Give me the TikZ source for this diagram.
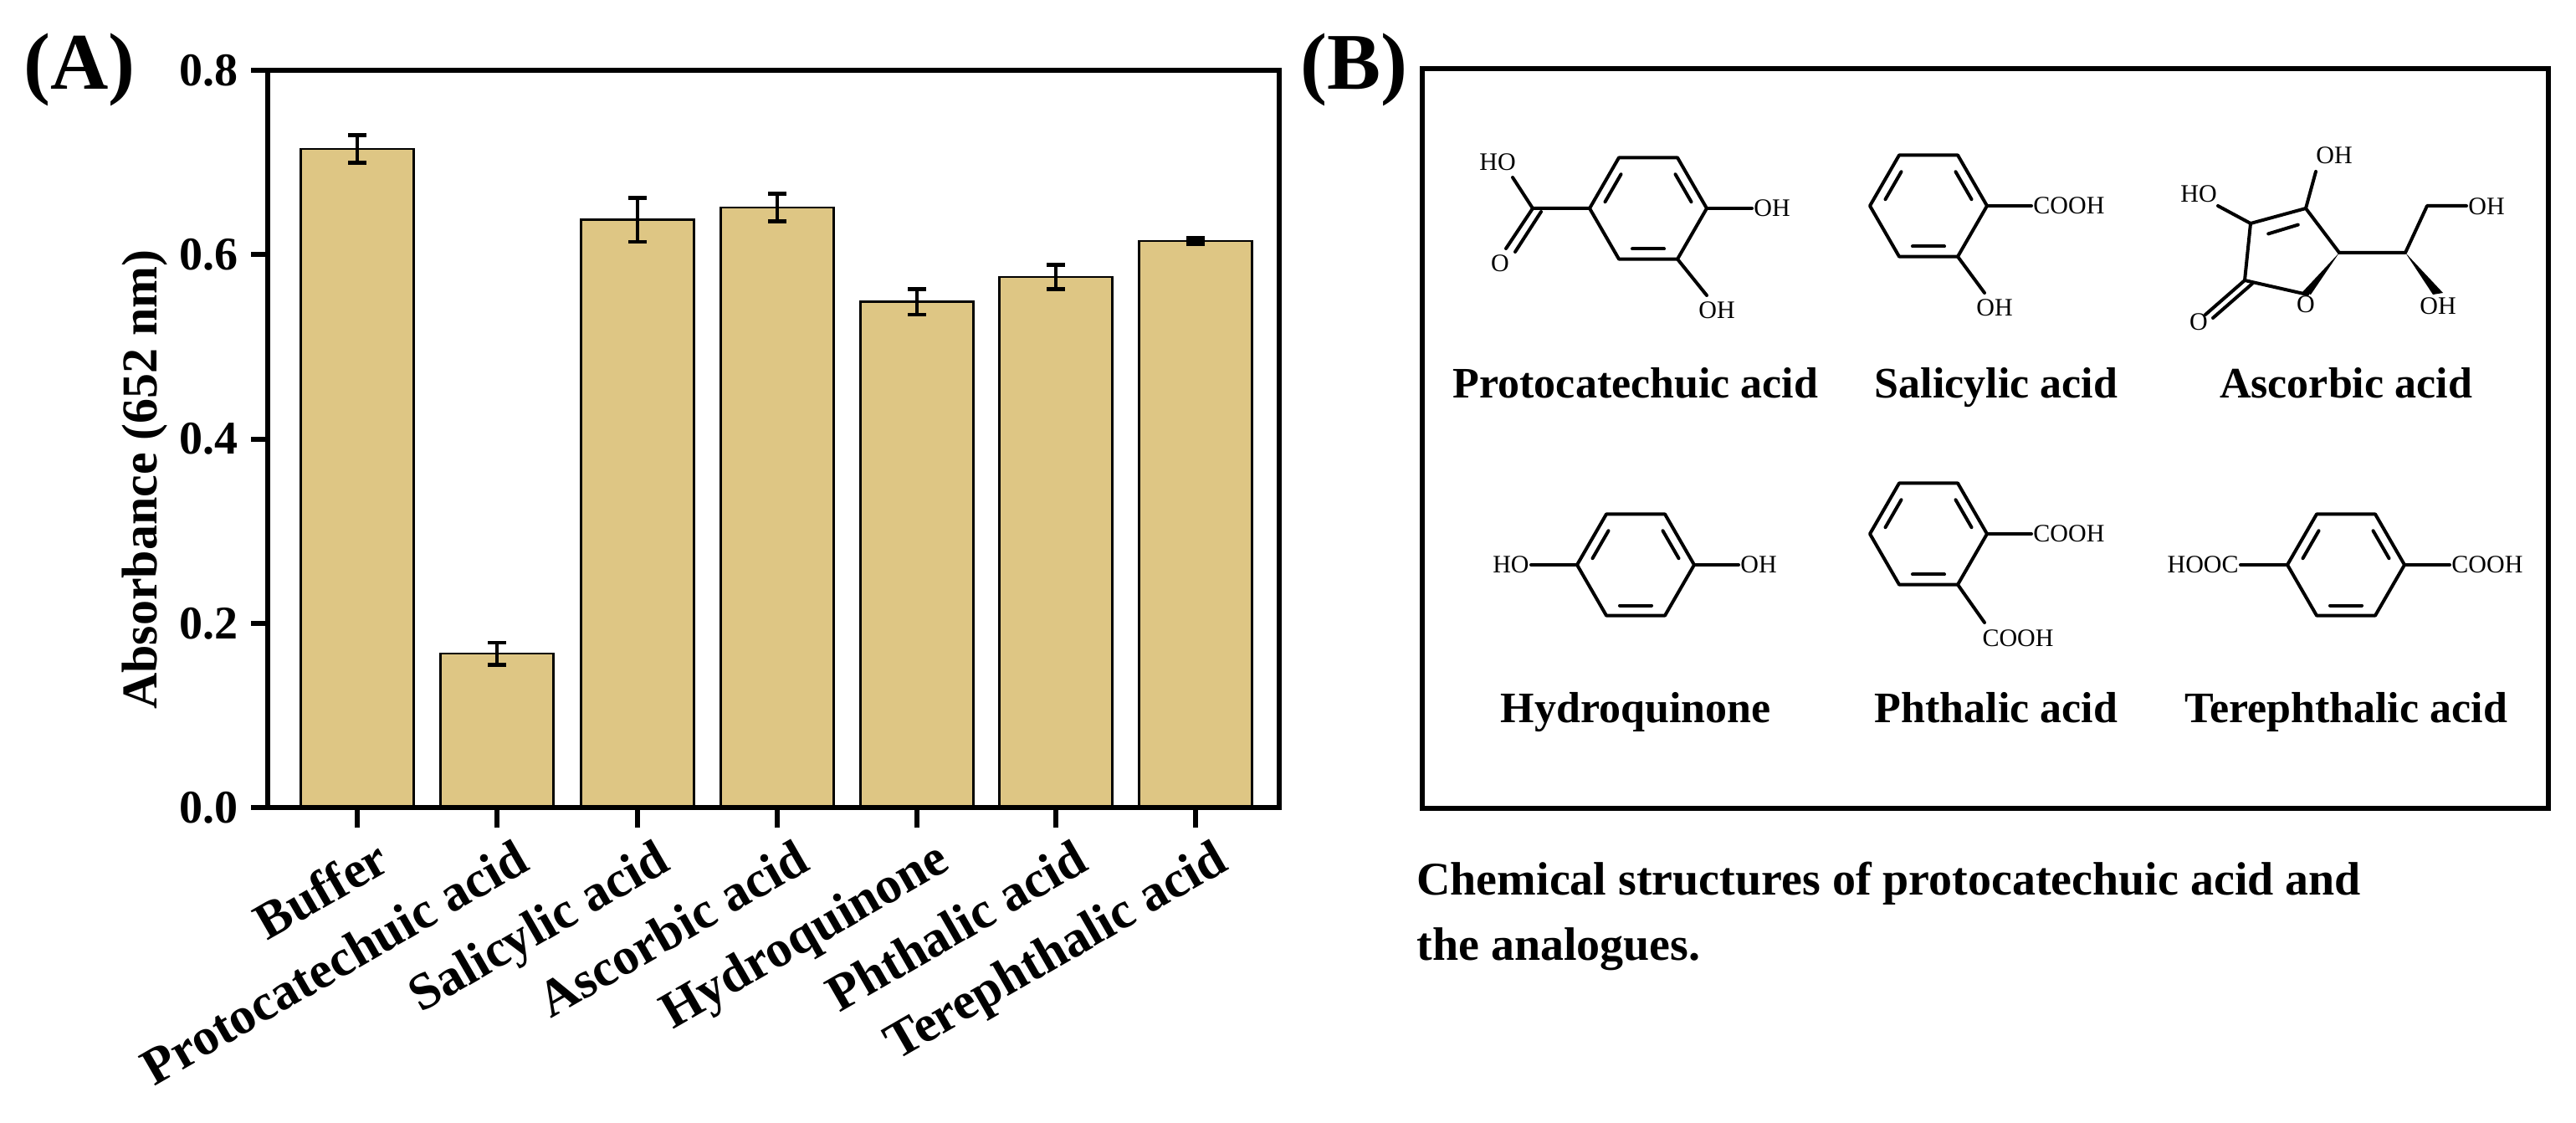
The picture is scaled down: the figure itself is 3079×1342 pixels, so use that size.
\documentclass[tikz,border=0pt]{standalone}
\usepackage{fontspec}
\setmainfont{Liberation Serif}
\usetikzlibrary{calc}
\definecolor{bartan}{RGB}{222,198,132}
\newcommand{\benzring}[3]{% name, cx, cy
\begin{scope}[shift={(#2,#3)}]
\draw[bond] (0:70) -- (60:70) -- (120:70) -- (180:70) -- (240:70) -- (300:70) -- cycle;
\foreach \a in {0,120,240}{
 \draw[bond] ($(\a-60:56)!0.16!(\a:56)$) -- ($(\a:56)!0.16!(\a-60:56)$);}
\coordinate (#1r) at (0:70); \coordinate (#1l) at (180:70);
\coordinate (#1br) at (60:70);
\end{scope}}
\begin{document}
\begin{tikzpicture}[x=0.5pt,y=-0.5pt,
  bond/.style={line width=2pt,line cap=round,line join=round},
  ticklab/.style={font=\fontsize{28}{30}\selectfont\bfseries,anchor=east},
  catlab/.style={font=\fontsize{31}{33}\selectfont\bfseries,anchor=north east,rotate=30,inner sep=0pt},
  chemlab/.style={font=\fontsize{15}{16}\selectfont,inner sep=0pt},
  namelab/.style={font=\fontsize{26}{28}\selectfont\bfseries,anchor=base},
  panel/.style={font=\fontsize{48}{50}\selectfont\bfseries},
  bar/.style={fill=bartan,draw=black,line width=1.2pt},
  err/.style={line width=2.4pt}]
\useasboundingbox (0,0) rectangle (3079,1342);
% panel labels
\node[panel] (pA) at (95,83) {(A)};
\node[panel] (pB) at (1618,83) {(B)};
% bars
\foreach \c/\v/\e [count=\i] in {427/0.715/0.015,594/0.167/0.012,762/0.638/0.024,929/0.651/0.015,1096/0.549/0.014,1262/0.576/0.013,1429/0.615/0.003}{
  \pgfmathsetmacro{\yt}{965-1101*\v}
  \pgfmathsetmacro{\yhi}{965-1101*(\v+\e)}
  \pgfmathsetmacro{\ylo}{965-1101*(\v-\e)}
  \draw[bar] (\c-67.5,965) rectangle (\c+67.5,\yt);
  \draw[err] (\c,\yhi) -- (\c,\ylo);
  \draw[err] (\c-11,\yhi) -- (\c+11,\yhi);
  \draw[err] (\c-11,\ylo) -- (\c+11,\ylo);
  \draw[line width=3pt] (\c,965) -- (\c,989);
  \coordinate (t\i) at (\c+20,1000);
}
% axes frame
\draw[line width=3pt] (320,84) rectangle (1529,965);
\foreach \v in {0.0,0.2,0.4,0.6,0.8}{
  \pgfmathsetmacro{\yy}{965-1101*\v}
  \draw[line width=3pt] (300,\yy) -- (320,\yy);
  \node[ticklab] at (292,\yy) {\v};
}
\node[font=\fontsize{30}{32}\selectfont\bfseries,rotate=90] (ylab) at (173,573) {Absorbance (652 nm)};
\node[catlab] (c1) at (t1) {Buffer};
\node[catlab] (c2) at (t2) {Protocatechuic acid};
\node[catlab] (c3) at (t3) {Salicylic acid};
\node[catlab] (c4) at (t4) {Ascorbic acid};
\node[catlab] (c5) at (t5) {Hydroquinone};
\node[catlab] (c6) at (t6) {Phthalic acid};
\node[catlab] (c7) at (t7) {Terephthalic acid};
% panel B box
\draw[line width=3pt] (1700,82) rectangle (3046,966);
% Protocatechuic acid
\benzring{p}{1970}{249}
\coordinate (pc) at (1832,249);
\draw[bond] (pl) -- (pc) -- (1808,212);
\draw[bond] (pc) -- (1800,297);
\draw[bond] ($(pc)+(10,4)$) -- (1811,301);
\node[chemlab] (pHO) at (1790,194) {HO};
\node[chemlab] (pO) at (1793,315) {O};
\draw[bond] (pr) -- (2094,249);
\node[chemlab,anchor=west] (pOH1) at (2096,249) {OH};
\draw[bond] (pbr) -- (2040,353);
\node[chemlab] (pOH2) at (2052,371) {OH};
\node[namelab] (n1) at (1955,475) {Protocatechuic acid};
% Salicylic acid
\benzring{s}{2305}{246}
\draw[bond] (sr) -- (2428,246);
\node[chemlab,anchor=west] (sCOOH) at (2430,246) {COOH};
\draw[bond] (sbr) -- (2372,350);
\node[chemlab] (sOH) at (2384,368) {OH};
\node[namelab] (n2) at (2386,475) {Salicylic acid};
% Ascorbic acid
\coordinate (a3) at (2690,267);
\coordinate (a2) at (2756,249);
\coordinate (a4) at (2796,302);
\coordinate (aO) at (2758,352);
\coordinate (a1) at (2683,335);
\draw[bond] (a3) -- (a2) -- (a4);
\draw[bond] ($(a3)!0.2!(a2)+(8,16)$) -- ($(a2)!0.2!(a3)+(4,16)$);
\draw[bond] (aO) -- (a1) -- (a3);
\fill (a4) -- ($(aO)+(-6,-3)$) -- ($(aO)+(4,0)$) -- cycle;
\node[chemlab] (aOr) at (2756,364) {O};
\draw[bond] (a1) -- (2636,376);
\draw[bond] ($(a1)+(9,4)$) -- (2645,380);
\node[chemlab] (aOk) at (2628,385) {O};
\draw[bond] (a3) -- (2651,246);
\node[chemlab] (aHO) at (2628,232) {HO};
\draw[bond] (a2) -- (2768,205);
\node[chemlab] (aOH1) at (2790,186) {OH};
\coordinate (a5) at (2875,302);
\coordinate (a6) at (2901,246);
\draw[bond] (a4) -- (a5) -- (a6) -- (2948,246);
\node[chemlab,anchor=west] (aOH2) at (2950,247) {OH};
\fill (a5) -- (2908,352) -- (2920,350) -- cycle;
\node[chemlab] (aOH3) at (2914,366) {OH};
\node[namelab] (n3) at (2804,475) {Ascorbic acid};
% Hydroquinone
\benzring{h}{1955}{675}
\draw[bond] (hl) -- (1830,675);
\node[chemlab,anchor=east] (hHO) at (1828,675) {HO};
\draw[bond] (hr) -- (2078,675);
\node[chemlab,anchor=west] (hOH) at (2080,675) {OH};
\node[namelab] (n4) at (1955,863) {Hydroquinone};
% Phthalic acid
\benzring{f}{2305}{638}
\draw[bond] (fr) -- (2428,638);
\node[chemlab,anchor=west] (fC1) at (2430,638) {COOH};
\draw[bond] (fbr) -- (2372,744);
\node[chemlab] (fC2) at (2412,763) {COOH};
\node[namelab] (n5) at (2386,863) {Phthalic acid};
% Terephthalic acid
\benzring{t}{2804}{675}
\draw[bond] (tl) -- (2678,675);
\node[chemlab,anchor=east] (tC1) at (2676,675) {HOOC};
\draw[bond] (tr) -- (2928,675);
\node[chemlab,anchor=west] (tC2) at (2930,675) {COOH};
\node[namelab] (n6) at (2804,863) {Terephthalic acid};
% caption
\node[font=\fontsize{28}{39}\selectfont\bfseries,anchor=north west,align=left,inner sep=0pt] (cap) at (1693,1030) {Chemical structures of protocatechuic acid and\\the analogues.};
\end{tikzpicture}
\end{document}
